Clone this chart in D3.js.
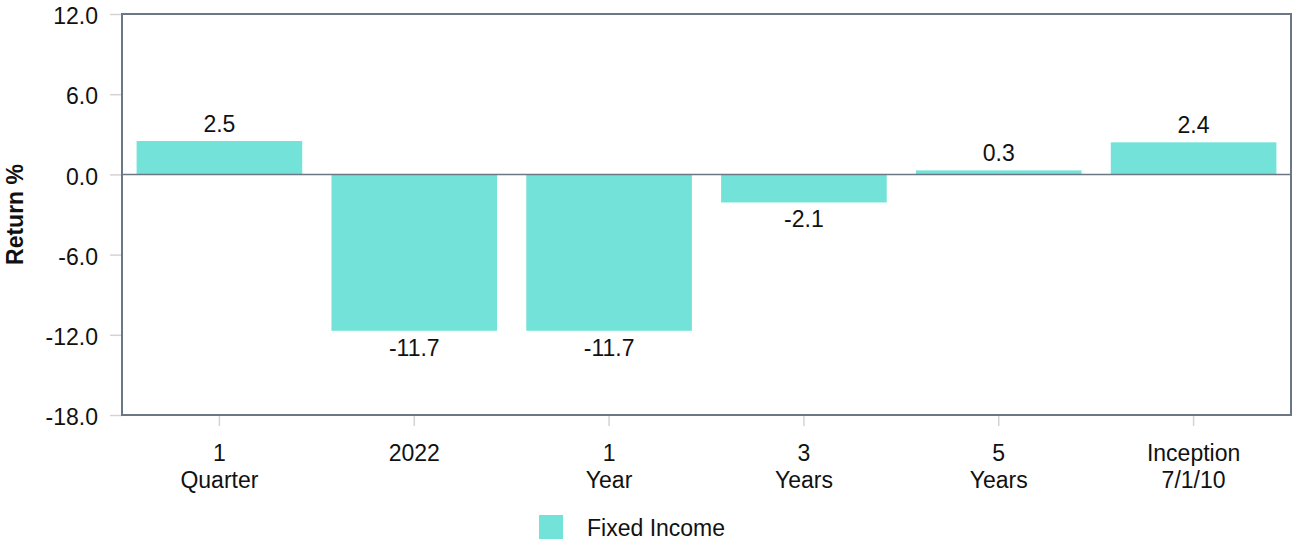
<!DOCTYPE html>
<html>
<head>
<meta charset="utf-8">
<script src="https://cdn.jsdelivr.net/npm/d3@7"></script>
<style>
  html, body { margin: 0; padding: 0; background: #fff; }
  svg { display: block; font-family: "Liberation Sans", Arial, Helvetica, sans-serif; }
</style>
</head>
<body>
<svg id="chart" width="1292" height="539"></svg>
<script>
// Trailing-period returns for the Fixed Income composite
const categories = [["1", "Quarter"], ["2022"], ["1", "Year"], ["3", "Years"], ["5", "Years"], ["Inception", "7/1/10"]];
const returns = [2.5, -11.7, -11.7, -2.1, 0.3, 2.4];
const yTicks = [12, 6, 0, -6, -12, -18];
const seriesName = "Fixed Income";

const barColor = "#73e2d9";
const frameColor = "#6b7884";
const tickColor = "#d4d4d4";
const fontSize = 23;

// one decimal, plain hyphen for negatives
const fmt = v => v.toFixed(1);

const svg = d3.select("#chart");
const margin = { left: 122, right: 1291, top: 14, bottom: 415 };

const keys = categories.map((c, i) => i);
const x = d3.scaleBand()
  .domain(keys)
  .range([margin.left, margin.right])
  .paddingInner(0.15)
  .paddingOuter(0.075);

const y = d3.scaleLinear()
  .domain([-18, 12])
  .range([margin.bottom, margin.top]);

// Y axis ticks and labels
const yAxis = d3.axisLeft(y)
  .tickValues(yTicks)
  .tickFormat(fmt)
  .tickSize(12)
  .tickPadding(12);
const gy = svg.append("g").attr("transform", `translate(${margin.left},0)`).call(yAxis);
gy.select(".domain").remove();
gy.selectAll(".tick line").attr("stroke", tickColor).attr("stroke-width", 1.5);
gy.selectAll(".tick text")
  .attr("font-size", fontSize)
  .attr("fill", "#111")
  .attr("font-family", "inherit")
  .attr("dy", "0.42em");

// X axis ticks and two-line labels
const xAxis = d3.axisBottom(x).tickSize(10).tickFormat("");
const gx = svg.append("g").attr("transform", `translate(0,${margin.bottom + 1})`).call(xAxis);
gx.select(".domain").remove();
gx.selectAll(".tick line").attr("stroke", tickColor).attr("stroke-width", 1.5);
gx.selectAll(".tick").each(function (d) {
  const t = d3.select(this).append("text")
    .attr("fill", "#111")
    .attr("font-size", fontSize)
    .attr("text-anchor", "middle");
  categories[d].forEach((line, j) => {
    t.append("tspan").attr("x", 0).attr("y", 45 + j * 27).text(line);
  });
});

// Bars
svg.append("g").selectAll("rect")
  .data(returns)
  .join("rect")
  .attr("x", (d, i) => x(i))
  .attr("width", x.bandwidth())
  .attr("y", d => y(Math.max(0, d)))
  .attr("height", d => Math.abs(y(d) - y(0)))
  .attr("fill", barColor);

// Value labels
svg.append("g").selectAll("text")
  .data(returns)
  .join("text")
  .attr("x", (d, i) => x(i) + x.bandwidth() / 2)
  .attr("y", d => d >= 0 ? y(d) - 9 : y(d) + 25)
  .attr("text-anchor", "middle")
  .attr("font-size", fontSize)
  .attr("fill", "#111")
  .text(fmt);

// Zero line
svg.append("line")
  .attr("x1", margin.left).attr("x2", margin.right)
  .attr("y1", y(0)).attr("y2", y(0))
  .attr("stroke", frameColor).attr("stroke-width", 1.5);

// Plot frame
svg.append("rect")
  .attr("x", margin.left).attr("y", margin.top)
  .attr("width", margin.right - margin.left)
  .attr("height", margin.bottom - margin.top)
  .attr("fill", "none")
  .attr("stroke", frameColor)
  .attr("stroke-width", 2);

// Y axis title
svg.append("text")
  .attr("transform", `translate(23,${(margin.top + margin.bottom) / 2}) rotate(-90)`)
  .attr("text-anchor", "middle")
  .attr("font-size", fontSize)
  .attr("font-weight", "bold")
  .attr("fill", "#111")
  .text("Return %");

// Legend
const legend = svg.append("g").attr("transform", "translate(539,515)");
legend.append("rect").attr("width", 24).attr("height", 24).attr("fill", barColor);
legend.append("text").attr("x", 48).attr("y", 21).attr("font-size", fontSize).attr("fill", "#111").text(seriesName);
</script>
</body>
</html>
